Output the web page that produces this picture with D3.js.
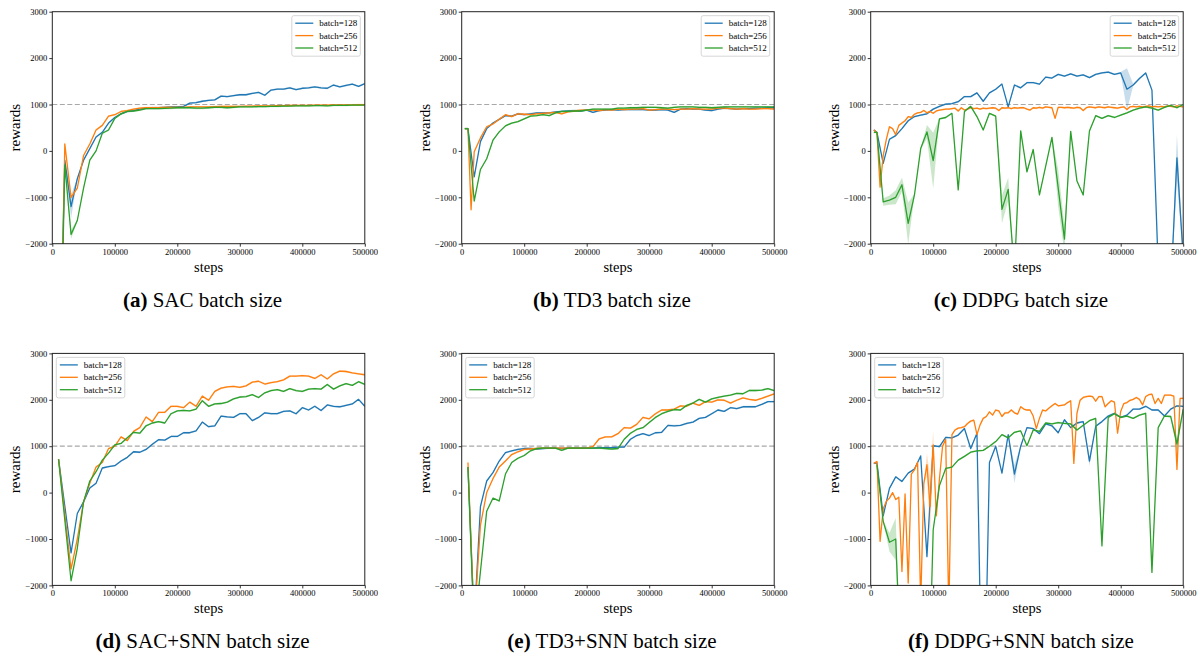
<!DOCTYPE html>
<html>
<head>
<meta charset="utf-8">
<script src="https://cdn.jsdelivr.net/npm/d3@7"></script>
<style>
  body { margin: 0; background: #fff; }
  text { font-family: 'Liberation Serif', 'Times New Roman', serif; fill: #000; }
</style>
</head>
<body>
<svg width="1203" height="658"></svg>
<script>
// x grids: coarse one used by most curves, fine one (every 5000 steps) for the jumpy orange runs
const steps = [5000, 10000, 15000, 20000, ...d3.range(30000, 500001, 10000)];
const stepsFine = d3.range(5000, 500001, 5000);

const xTicks = [0, 100000, 200000, 300000, 400000, 500000];
const yTicks = [-2000, -1000, 0, 1000, 2000, 3000];
const labels = ['batch=128', 'batch=256', 'batch=512'];
const COLORS = ['#1f77b4', '#ff7f0e', '#2ca02c'];

// (a) SAC
const sac128 = [null, null, -3000, -200,
  -1200, -600, -200, 50, 300, 400, 600, 720,
  800, 850, 870, 900, 920, 930, 930, 940, 950, 950,
  960, 1030, 1040, 1070, 1090, 1100, 1180, 1170, 1190, 1210,
  1210, 1240, 1260, 1200, 1310, 1330, 1330, 1360, 1320, 1350,
  1360, 1380, 1360, 1350, 1420, 1380, 1410, 1440, 1390, 1450];
const sac256 = [null, null, -3500, 150,
  -1000, -800, -100, 150, 450, 550, 750, 780,
  850, 870, 900, 920, 930, 930, 930, 940, 940, 940,
  940, 950, 950, 950, 950, 955, 960, 960, 960, 960,
  965, 965, 970, 970, 970, 975, 975, 980, 980, 980,
  980, 985, 985, 985, 990, 990, 990, 990, 995, 995];
const sac512 = [null, null, -3500, -300,
  -1800, -1500, -800, -200, 0, 380, 450, 700,
  800, 850, 860, 880, 910, 910, 910, 915, 920, 930,
  930, 930, 920, 920, 930, 940, 940, 930, 940, 950,
  950, 950, 955, 955, 960, 960, 965, 965, 970, 970,
  970, 975, 975, 970, 980, 980, 980, 985, 985, 985];

// (b) TD3
const td3128 = [480, 480, null, -560,
  200, 480, 600, 680, 760, 750, 800, 780,
  800, 820, 820, 820, 840, 850, 860, 870, 860, 880,
  830, 870, 880, 890, 880, 890, 890, 890, 890, 880,
  880, 890, 880, 830, 900, 910, 900, 900, 880, 870,
  900, 920, 910, 900, 910, 910, 920, 920, 930, 930];
const td3256 = [480, 480, -1270, -20,
  280, 520, 580, 680, 780, 740, 800, 790,
  780, 800, 810, 820, 830, 800, 840, 860, 880, 880,
  880, 870, 890, 880, 900, 890, 900, 900, 910, 880,
  890, 900, 900, 890, 900, 900, 910, 900, 900, 900,
  920, 920, 910, 900, 910, 900, 900, 910, 910, 900];
const td3512 = [480, 480, null, -1080,
  -400, -170, 230, 410, 540, 600, 630, 690,
  750, 760, 780, 760, 820, 850, 850, 860, 860, 880,
  900, 900, 900, 900, 920, 920, 930, 930, 940, 940,
  940, 930, 920, 940, 950, 950, 950, 940, 940, 930,
  940, 950, 950, 950, 950, 950, 950, 950, 950, 950];

// (c) DDPG
const ddpg128 = [450, 400, null, -270,
  250, 330, 480, 650, 740, 770, 800, 900,
  960, 1010, 1020, 1060, 1170, 1170, 1250, 1070, 1250, 1330,
  1440, 950, 1420, 1360, 1470, 1470, 1440, 1590, 1570, 1650,
  1610, 1660, 1610, 1640, 1580, 1650, 1680, 1700, 1650, 1680,
  1330, 1420, 1560, 1680, 1310, -2500, -3000, -3000, -150, -2300];
const ddpg256 = [
  450, 390, -780, -100, 250, 520, 480, 350, 550, 600,
  650, 740, 720, 790, 820, 830, 870, 820, 850, 810,
  860, 880, 890, 900, 900, 910, 920, 860, 930, 880,
  900, 930, 910, 920, 900, 920, 910, 920, 930, 920,
  870, 930, 920, 930, 910, 930, 920, 930, 930, 900,
  880, 930, 920, 940, 920, 950, 940, 930, 700, 940,
  940, 930, 940, 930, 920, 940, 930, 870, 930, 950,
  940, 930, 950, 940, 930, 950, 940, 930, 920, 940,
  950, 890, 950, 960, 950, 960, 950, 960, 970, 950,
  960, 950, 960, 950, 970, 960, 950, 970, 960, 950];
const ddpg512 = [400, 400, null, -1100,
  -1060, -1000, -730, -1560, -950, 50, 410, -210,
  690, 720, 810, -840, 850, 960, 740, 450, 810, 750,
  -1260, -830, -2630, 430, -450, 30, -950, -330, 290, -800,
  -1900, 420, -650, -950, 430, 760, 700, 760, 720, 770,
  820, 880, 920, 950, 920, 880, 940, 980, 930, 1000];

// (d) SAC+SNN
const sacSnn128 = [null, 720, null, null,
  -1300, -450, -200, 100, 200, 530, 560, 580,
  680, 760, 880, 870, 930, 1040, 1140, 1130, 1210, 1210,
  1290, 1290, 1330, 1520, 1420, 1440, 1650, 1630, 1620, 1700,
  1700, 1550, 1620, 1720, 1700, 1700, 1750, 1760, 1700, 1830,
  1780, 1860, 1770, 1890, 1860, 1850, 1880, 1910, 2010, 1860];
const sacSnn256 = [null, 720, null, null,
  -1650, -1000, -200, 200, 550, 650, 950, 1000,
  1200, 1120, 1320, 1400, 1630, 1530, 1730, 1730, 1860, 1860,
  1830, 1950, 1860, 2080, 1990, 2180, 2250, 2280, 2290, 2270,
  2300, 2380, 2400, 2340, 2370, 2390, 2430, 2510, 2510, 2520,
  2510, 2460, 2540, 2450, 2560, 2620, 2610, 2580, 2560, 2540];
const sacSnn512 = [null, 720, null, null,
  -1900, -1200, -200, 250, 450, 700, 850, 1030,
  1060, 1180, 1300, 1280, 1440, 1500, 1530, 1500, 1700, 1760,
  1770, 1760, 1800, 1980, 1860, 1910, 1920, 1950, 2020, 2060,
  2070, 2110, 2050, 2150, 2200, 2220, 2180, 2240, 2200, 2180,
  2230, 2240, 2230, 2330, 2230, 2300, 2350, 2310, 2390, 2330];

// (e) TD3+SNN
const td3Snn128 = [null, 550, null, -2800,
  -300, 250, 430, 680, 860, 900, 930, 950,
  950, 940, 950, 960, 960, 950, 960, 960, 960, 960,
  960, 970, 970, 970, 980, 980, 1150, 1230, 1270, 1230,
  1290, 1300, 1450, 1440, 1450, 1490, 1520, 1600, 1620, 1700,
  1780, 1750, 1830, 1810, 1850, 1850, 1850, 1900, 1960, 1960];
const td3Snn256 = [null, 650, null, -2800,
  -700, 0, 300, 550, 680, 820, 880, 930,
  940, 950, 960, 960, 960, 960, 960, 960, 960, 960,
  990, 1160, 1200, 1200, 1270, 1400, 1390, 1470, 1620, 1590,
  1700, 1780, 1780, 1800, 1870, 1860, 1930, 1880, 1960, 1950,
  2000, 1990, 1930, 1990, 2040, 2010, 1990, 2030, 2080, 2130];
const td3Snn512 = [null, 550, null, -3000,
  -1700, -400, -120, -180, 400, 650, 740, 800,
  900, 950, 960, 960, 960, 910, 960, 960, 960, 960,
  960, 960, 950, 940, 950, 1150, 1280, 1360, 1400, 1510,
  1620, 1700, 1750, 1790, 1780, 1880, 1930, 2010, 1950, 2020,
  2050, 2080, 2100, 2140, 2130, 2200, 2200, 2210, 2240, 2200];

// (f) DDPG+SNN
const ddpgSnn128 = [630, 640, null, -500,
  90, 340, 240, 420, 510, 790, -1380, 1010,
  990, 1190, 1180, 1240, 1380, 950, 1280, -6000, 650, 1000,
  420, 1250, 400, 1000, 1400, 1380, 1270, 1480, 1440, 1290,
  1570, 1400, 1500, 1530, 680, 1430, 1530, 1650, 1710, 1620,
  1670, 1800, 1800, 1860, 1780, 1780, 1650, 1800, 1870, 1860];
const ddpgSnn256 = [
  630, 670, -1050, -350, -190, -120, 0, -150, -100, -1700,
  -30, -1950, 400, 490, 650, -2400, 200, 600, -300, 1030,
  -500, 300, 1000, 1150, -2600, 1250, 1350, 1390, 1400, 1420,
  1490, 1540, 1560, 1250, 1460, 1600, 1640, 1740, 1670, 1780,
  1760, 1640, 1720, 1720, 1780, 1720, 1690, 1850, 1800, 1780,
  1780, 1650, 1380, 1600, 1780, 1760, 1820, 1870, 1920, 1870,
  1880, 1890, 1940, 1980, 630, 1710, 1990, 2050, 2070, 2080,
  2070, 1970, 2070, 2070, 1850, 1920, 1980, 1950, 1280, 1750,
  1920, 1940, 1990, 2010, 2050, 2010, 1890, 2070, 2110, 2120,
  1920, 2030, 1920, 2100, 2100, 2100, 2080, 500, 2030, 2030];
const ddpgSnn512 = [null, 600, null, -620,
  -1070, -1000, -4300, -5000, -5500, -5500, -5800, -800,
  150, 520, 550, 700, 780, 870, 900, 910, 1000, 1100,
  1250, 1180, 1300, 1330, 1010, 1350, 1320, 1500, 1480, 1510,
  1490, 1480, 1350, 1450, 1550, 1600, -1150, 1620, 1700, 1620,
  1650, 1600, 1670, 1710, -1720, 1400, 1650, 1640, 1050, 1800];

// spread bands: [step, half width]; elsewhere a thin default
const sacBand128 = [[30000, 250]];
const sacBand512 = [[30000, 100]];
const ddpgBand128 = [[410000, 450], [490000, 500]];
const ddpgBand512 = [[20000, 80], [30000, 100], [40000, 150], [50000, 150], [60000, 450],
  [90000, 150], [100000, 600], [210000, 300], [220000, 250], [300000, 400], [310000, 300]];
const ddpgSnnBand128 = [[230000, 200], [350000, 100]];
const ddpgSnnBand256 = [[90000, 250], [95000, 650], [100000, 300]];
const ddpgSnnBand512 = [[30000, 200], [40000, 450], [490000, 150]];

const panels = [
  { tag: '(a)', title: ' SAC batch size', legend: 'right',
    series: [[steps, sac128, sacBand128], [steps, sac256, []], [steps, sac512, sacBand512]] },
  { tag: '(b)', title: ' TD3 batch size', legend: 'right',
    series: [[steps, td3128, []], [steps, td3256, []], [steps, td3512, []]] },
  { tag: '(c)', title: ' DDPG batch size', legend: 'right',
    series: [[steps, ddpg128, ddpgBand128], [stepsFine, ddpg256, []], [steps, ddpg512, ddpgBand512]] },
  { tag: '(d)', title: ' SAC+SNN batch size', legend: 'left',
    series: [[steps, sacSnn128, []], [steps, sacSnn256, []], [steps, sacSnn512, []]] },
  { tag: '(e)', title: ' TD3+SNN batch size', legend: 'left',
    series: [[steps, td3Snn128, []], [steps, td3Snn256, []], [steps, td3Snn512, []]] },
  { tag: '(f)', title: ' DDPG+SNN batch size', legend: 'left',
    series: [[steps, ddpgSnn128, ddpgSnnBand128], [stepsFine, ddpgSnn256, ddpgSnnBand256], [steps, ddpgSnn512, ddpgSnnBand512]] }
];

const plotW = 312.5, plotH = 232;
const colX = [52.3, 461.7, 870.7];
const rowY = [11.7, 353.4];

const svg = d3.select('svg');
svg.append('rect').attr('width', 1203).attr('height', 658).attr('fill', '#fff');

const x = d3.scaleLinear().domain([0, 500000]).range([0, plotW]);
const y = d3.scaleLinear().domain([-2000, 3000]).range([plotH, 0]);

panels.forEach((p, i) => {
  const left = colX[i % 3], top = rowY[Math.floor(i / 3)];
  const g = svg.append('g').attr('transform', `translate(${left},${top})`);

  g.append('clipPath').attr('id', 'clip' + i)
    .append('rect').attr('width', plotW).attr('height', plotH);
  const plot = g.append('g').attr('clip-path', `url(#clip${i})`);

  // reference line at 1000
  plot.append('line')
    .attr('x1', 0).attr('x2', plotW)
    .attr('y1', y(1000)).attr('y2', y(1000))
    .attr('stroke', '#a8a8a8').attr('stroke-width', 1.2)
    .attr('stroke-dasharray', '5,2.5');

  p.series.forEach(([xs, ys, band], k) => {
    const bandMap = new Map(band);
    const pts = xs.map((s, j) => ({ s, v: ys[j], w: bandMap.get(s) || 20 }))
      .filter(d => d.v !== null);

    plot.append('path')
      .datum(pts)
      .attr('fill', COLORS[k]).attr('fill-opacity', 0.25)
      .attr('d', d3.area().x(d => x(d.s)).y0(d => y(d.v - d.w)).y1(d => y(d.v + d.w)));

    plot.append('path')
      .datum(pts)
      .attr('fill', 'none').attr('stroke', COLORS[k]).attr('stroke-width', 1.3)
      .attr('stroke-linejoin', 'round')
      .attr('d', d3.line().x(d => x(d.s)).y(d => y(d.v)));
  });

  // axes
  const xa = g.append('g').attr('transform', `translate(0,${plotH})`)
    .call(d3.axisBottom(x).tickValues(xTicks).tickSize(3).tickPadding(2).tickFormat(d3.format('d')));
  const ya = g.append('g')
    .call(d3.axisLeft(y).tickValues(yTicks).tickSize(3).tickPadding(2).tickFormat(d3.format('d')));
  [xa, ya].forEach(a => {
    a.select('.domain').remove();
    a.selectAll('text').style('font-family', "'Liberation Serif', serif").style('font-size', '8.5px');
    a.selectAll('line').attr('stroke', '#000').attr('stroke-width', 0.8);
  });

  g.append('rect').attr('width', plotW).attr('height', plotH)
    .attr('fill', 'none').attr('stroke', '#222').attr('stroke-width', 1);

  g.append('text').attr('x', plotW / 2).attr('y', plotH + 28)
    .attr('text-anchor', 'middle').style('font-size', '14.5px').text('steps');
  g.append('text')
    .attr('transform', `translate(-32,${plotH / 2}) rotate(-90)`)
    .attr('text-anchor', 'middle').style('font-size', '15px').text('rewards');

  // legend
  const lw = 68.5, lh = 40.5;
  const lx = p.legend === 'right' ? plotW - lw - 4.5 : 4;
  const lg = g.append('g').attr('transform', `translate(${lx},4)`);
  lg.append('rect').attr('width', lw).attr('height', lh).attr('rx', 2)
    .attr('fill', '#fff').attr('fill-opacity', 0.85)
    .attr('stroke', '#cccccc').attr('stroke-width', 0.8);
  labels.forEach((lab, k) => {
    const ly = 7.5 + k * 12.4;
    lg.append('line').attr('x1', 3.5).attr('x2', 21.5).attr('y1', ly).attr('y2', ly)
      .attr('stroke', COLORS[k]).attr('stroke-width', 1.3);
    lg.append('text').attr('x', 27.5).attr('y', ly + 3)
      .style('font-size', '9px').text(lab);
  });

  // caption
  const cap = g.append('text').attr('x', plotW / 2 - 6).attr('y', plotH + 63)
    .attr('text-anchor', 'middle').style('font-size', '21px');
  cap.append('tspan').style('font-weight', 'bold').text(p.tag);
  cap.append('tspan').text(p.title);
});
</script>
</body>
</html>
